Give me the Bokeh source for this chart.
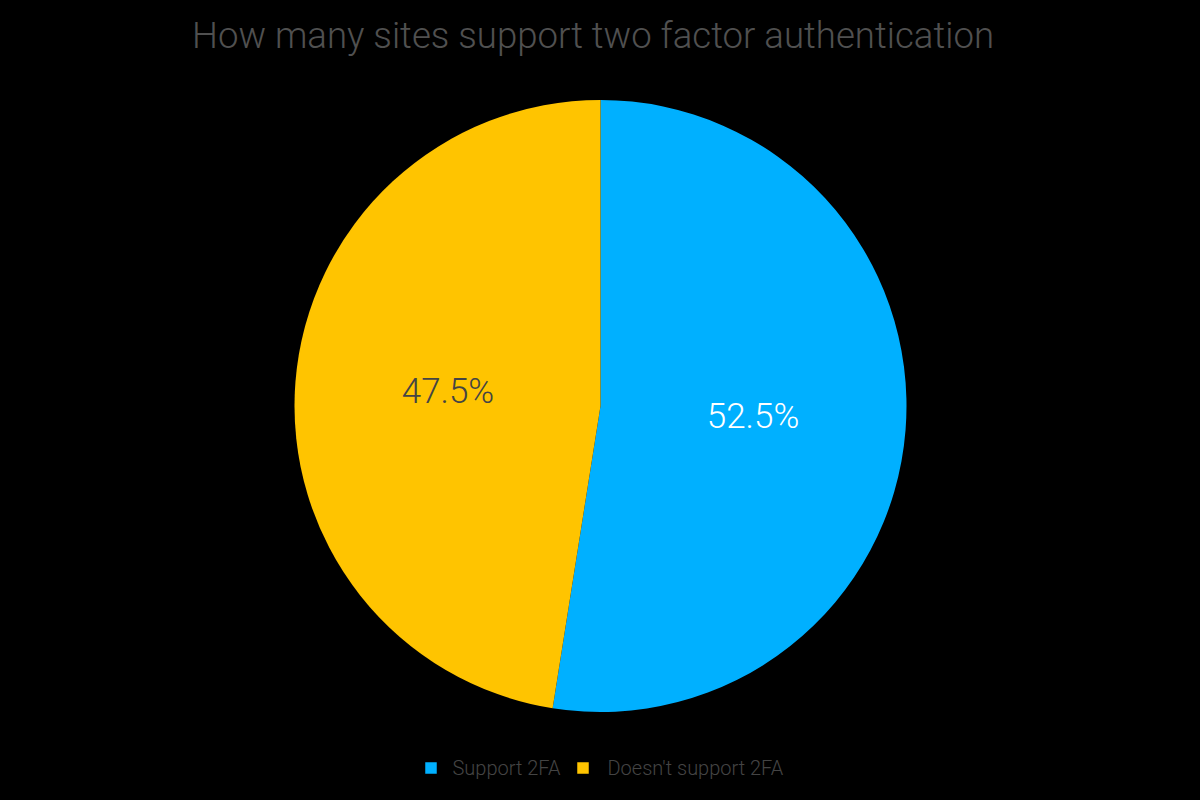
import math
from bokeh.plotting import figure
from bokeh.models import Range1d, ColumnDataSource, GlobalInlineStyleSheet
from bokeh.core.properties import value
from bokeh.embed import file_html
from bokeh.resources import INLINE

# ---- data ----
title_text = "How many sites support two factor authentication"
categories = ["Support 2FA", "Doesn't support 2FA"]
shares = [52.5, 47.5]
colors = ["#00B0FF", "#FFC400"]
label_colors = ["#FFFFFF", "#444444"]

FONT = value("'Roboto Light', Roboto")

# ---- layout (data space = page pixels, y flipped) ----
W, H = 1184, 784
cx, cy_page, R = 600, 405.5, 306
cy = 800 - cy_page

p = figure(width=W, height=H, output_backend="svg", toolbar_location=None,
           x_range=Range1d(0, W), y_range=Range1d(800 - H, 800),
           x_axis_type=None, y_axis_type=None, min_border=0,
           background_fill_color="#000000", border_fill_color="#000000",
           outline_line_color=None)
p.grid.visible = False
p.stylesheets.append(GlobalInlineStyleSheet(css="html, body { background: #000000; overflow: hidden; }"))

total = sum(shares)
starts, ends, lx, ly, labels = [], [], [], [], []
t = 0.0
for s in shares:
    t0 = t
    t1 = t + s / total * 2 * math.pi
    starts.append(math.pi / 2 - t0)
    ends.append(math.pi / 2 - t1)
    mid = math.pi / 2 - (t0 + t1) / 2
    lx.append(cx + 0.5 * R * math.cos(mid))
    ly.append(cy + 0.5 * R * math.sin(mid))
    labels.append(f"{s:.1f}%")
    t = t1

src = ColumnDataSource(dict(start=starts, end=ends, color=colors, lx=lx, ly=ly,
                            label=labels, lcolor=label_colors, cat=categories))
p.wedge(x=cx, y=cy, radius=R, start_angle="start", end_angle="end", direction="clock",
        fill_color="color", line_color=None, source=src)
p.text(x="lx", y="ly", text="label", text_color="lcolor", text_align="center",
       text_baseline="middle", y_offset=-2, text_font=FONT,
       text_font_size="35px", source=src)

# title
p.text(x=[592.5], y=[800 - 35], text=[title_text], text_align="center", text_baseline="middle",
       text_font=FONT, text_font_size="36.6px", text_color="#505050")

# legend
leg_x = [430.5, 582.5]
leg_y = [800 - 767.5] * 2
p.scatter(x=leg_x, y=leg_y, marker="square", size=11.5, fill_color=colors, line_color=None)
p.text(x=[452, 607], y=[800 - 767.5] * 2, text=categories, text_align="left",
       text_baseline="middle", text_font=FONT, text_font_size="20px",
       text_color="#444444")

open("out.html", "w").write(file_html(p, INLINE))
